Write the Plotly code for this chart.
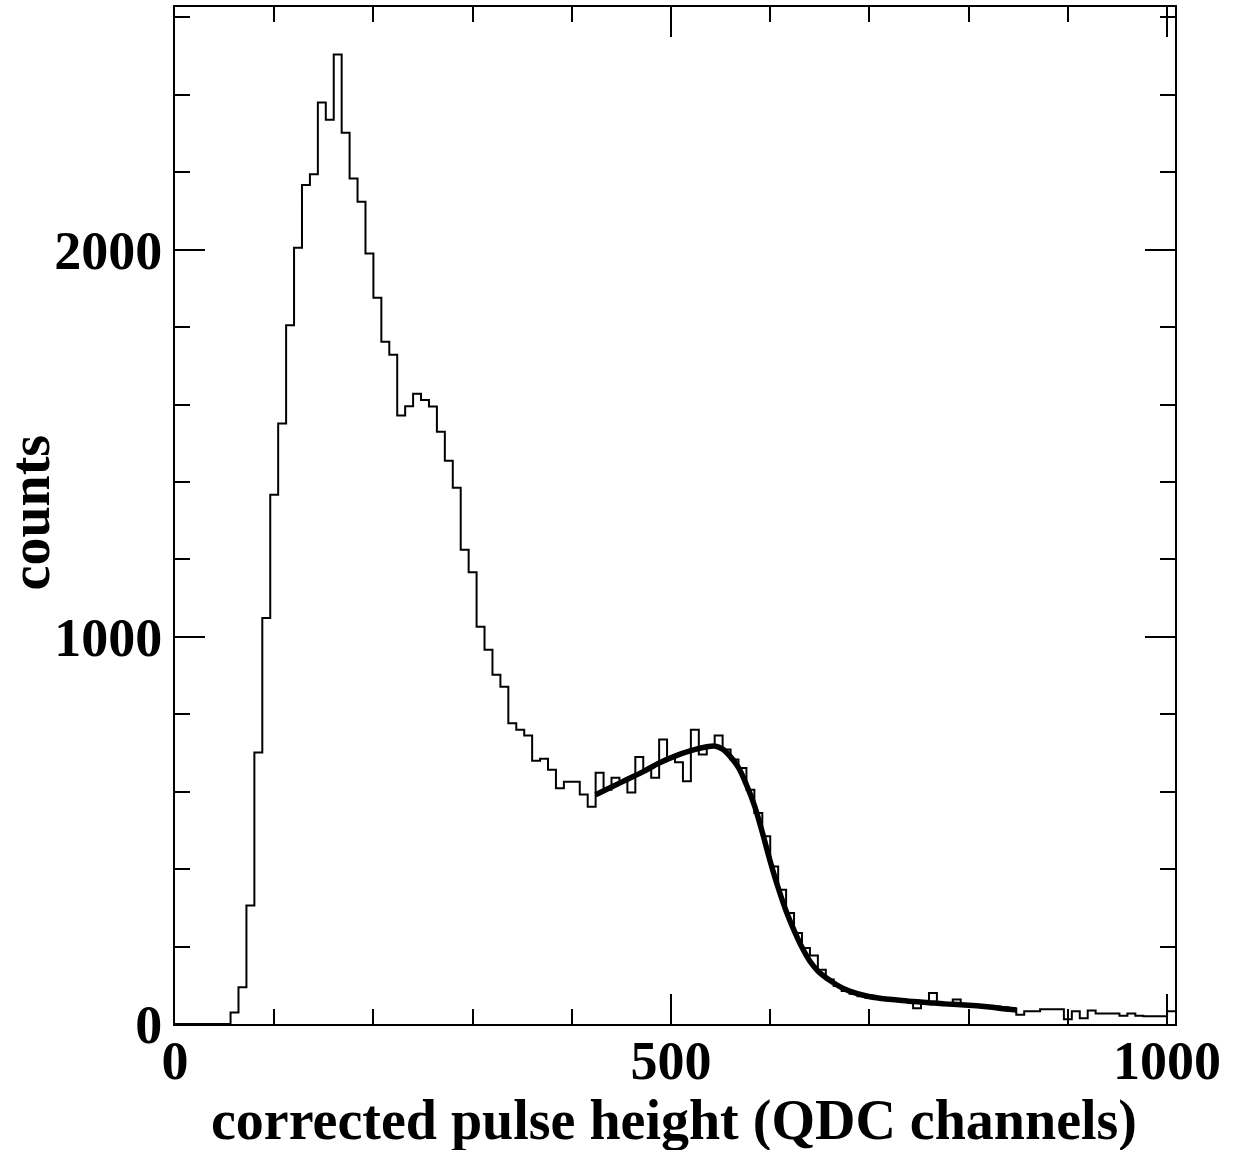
import numpy as np
import plotly.graph_objects as go

# histogram: 8-channel bins starting at channel 0
bin_width = 8
counts = [
    0, 0, 0, 0, 0, 0, 0,
    30, 95, 306, 701, 1049, 1367, 1551, 1805, 2005, 2167,
    2195, 2380, 2336, 2504, 2302, 2184, 2124, 1990, 1876, 1762,
    1729, 1572, 1596, 1628, 1612, 1595, 1530, 1455, 1385, 1225,
    1167, 1026, 967, 902, 871, 777, 760, 745, 680, 685,
    657, 609, 626, 626, 593, 561, 649, 605, 636, 627,
    598, 690, 657, 636, 735, 687, 676, 627, 760, 696,
    717, 745, 709, 683, 661, 605, 545, 485, 407, 347,
    287, 235, 196, 177, 140, 115, 98, 85, 78, 72,
    68, 66, 62, 62, 60, 58, 41, 56, 80, 54,
    52, 63, 50, 50, 45, 45, 45, 43, 40, 24,
    33, 33, 38, 38, 38, 12, 33, 15, 35, 27,
    27, 27, 21, 27, 21, 20, 20, 20, 33,
]

# fitted curve
fit_x = [424, 440, 456, 472, 488, 504, 520, 536, 544, 552, 560, 568, 576, 584,
         592, 600, 608, 616, 624, 632, 640, 648, 656, 664, 672, 680, 696, 712,
         728, 744, 760, 776, 792, 808, 824, 840, 848]
fit_y = [592, 612, 632, 652, 674, 692, 706, 716, 718, 710, 690, 662, 618, 565,
         495, 420, 352, 292, 242, 198, 162, 137, 120, 106, 94, 85, 73, 66,
         62, 58, 55, 52, 50, 47, 43, 38, 36]

x_title = "corrected pulse height (QDC channels)"
y_title = "counts"

edges = np.arange(len(counts) + 1) * bin_width
hist_y = counts + [counts[-1]]

font_family = "Liberation Serif"
title_font = dict(family=font_family, size=56, color="black", weight="bold")

fig = go.Figure()
fig.add_trace(go.Scatter(
    x=edges, y=hist_y, mode="lines", line_shape="hv",
    line=dict(color="black", width=2), showlegend=False
))
fig.add_trace(go.Scatter(
    x=fit_x, y=fit_y, mode="lines", line_shape="spline",
    line=dict(color="black", width=5.5), showlegend=False
))

axis_common = dict(
    showline=True, linecolor="black", linewidth=2, mirror="ticks",
    ticks="inside", tickcolor="black", tickwidth=2, ticklen=30,
    showgrid=False, zeroline=False, automargin=False,
    tickfont=dict(family=font_family, size=54, color="black", weight="bold"),
)

fig.update_layout(
    width=1234, height=1150,
    margin=dict(l=175, r=59, t=7, b=126),
    plot_bgcolor="white", paper_bgcolor="white",
    xaxis=dict(
        range=[0, 1008], tickmode="linear", tick0=0, dtick=500,
        ticklabelstandoff=-12,
        minor=dict(dtick=100, ticks="inside", ticklen=15, tickwidth=2, tickcolor="black"),
        **axis_common
    ),
    yaxis=dict(
        range=[0, 2627], tickmode="linear", tick0=0, dtick=1000,
        minor=dict(dtick=200, ticks="inside", ticklen=15, tickwidth=2, tickcolor="black"),
        **axis_common
    ),
)

# axis titles placed as annotations to match the original positions
fig.add_annotation(text=x_title, xref="paper", yref="paper", x=0.4985, y=-0.0944,
                   xanchor="center", yanchor="middle", showarrow=False, font=title_font)
fig.add_annotation(text=y_title, xref="paper", yref="paper", x=-0.145, y=0.503,
                   xanchor="center", yanchor="middle", textangle=-90,
                   showarrow=False, font=title_font)

# drop the default page margin so the figure sits at the window's corner
fig.write_html("out.html", config={"displayModeBar": False},
               post_script="document.body.style.margin='0';")
